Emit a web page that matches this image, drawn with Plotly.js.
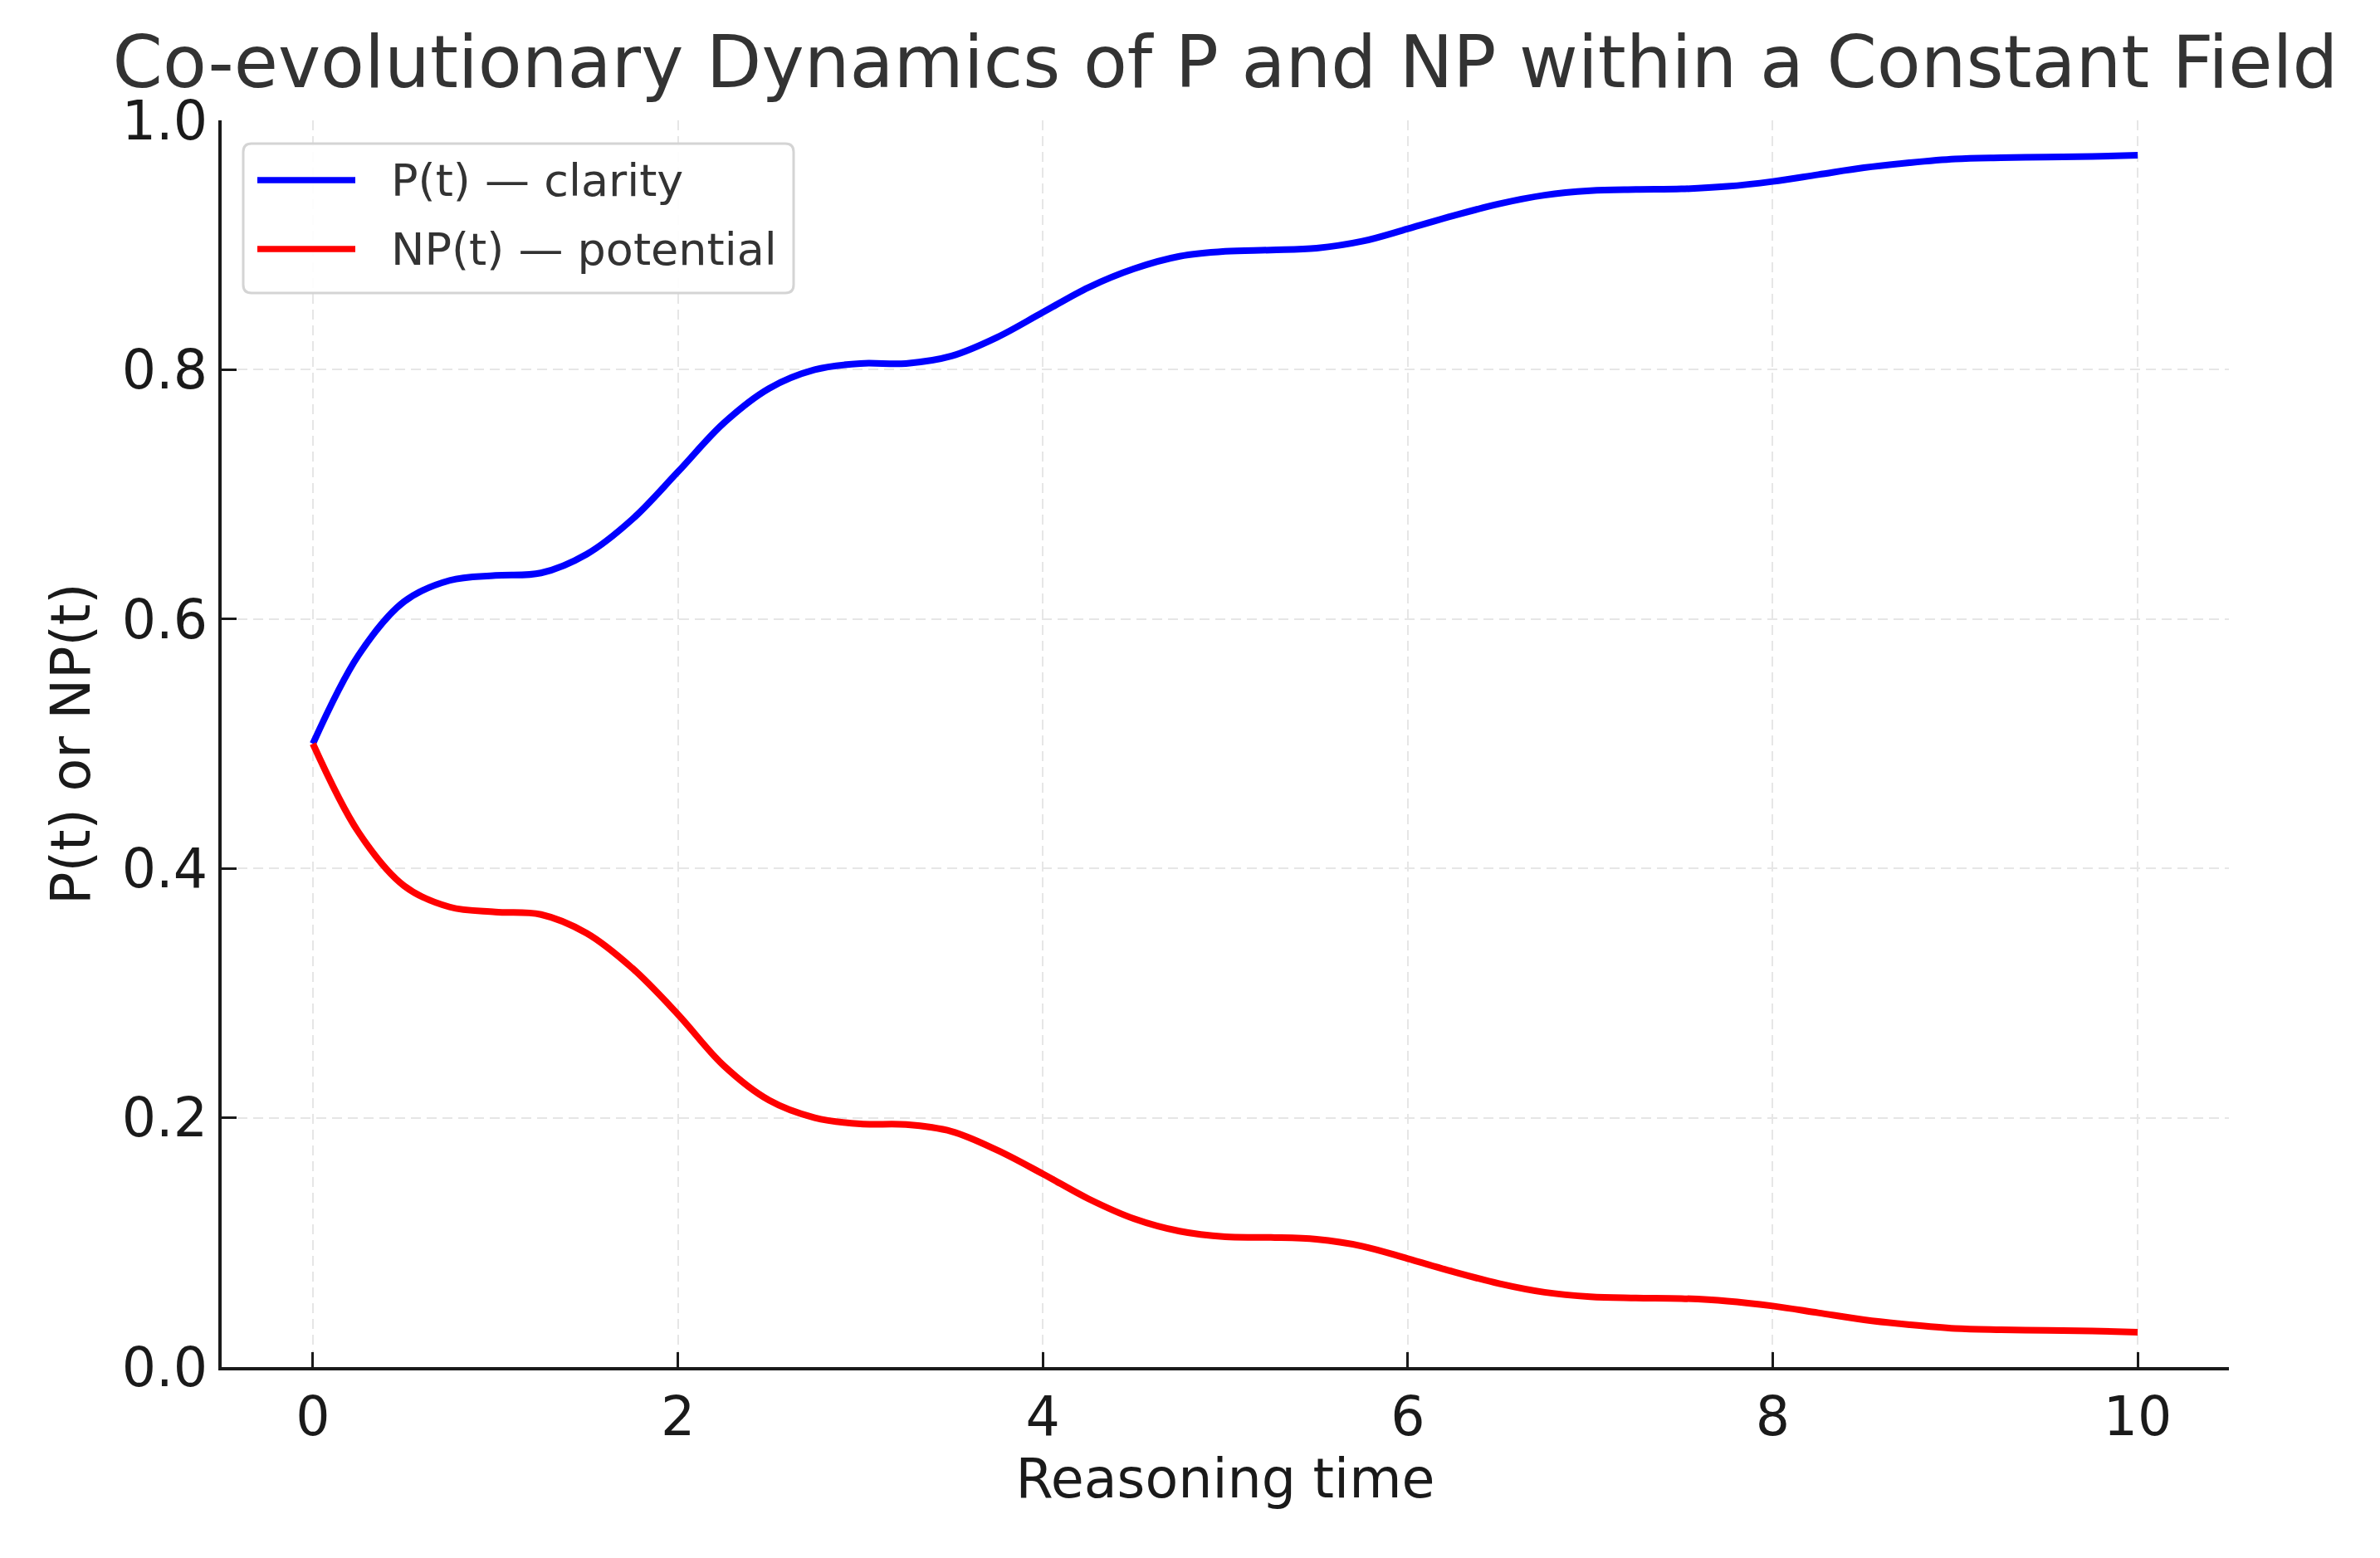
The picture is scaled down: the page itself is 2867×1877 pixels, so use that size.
<!DOCTYPE html>
<html>
<head>
<meta charset="utf-8">
<script src="https://cdn.plot.ly/plotly-3.0.1.min.js"></script>
<style>
html, body { margin: 0; padding: 0; background: #ffffff; }
#chart { width: 2867px; height: 1877px; }
</style>
</head>
<body>
<div id="chart"></div>
<script>
// ---- data ----
const reasoningTime = [0, 0.25, 0.5, 0.75, 1, 1.25, 1.5, 1.75, 2, 2.25, 2.5, 2.75, 3, 3.25, 3.5, 3.75, 4, 4.25, 4.5, 4.75, 5,
  5.25, 5.5, 5.75, 6, 6.25, 6.5, 6.75, 7, 7.25, 7.5, 7.75, 8, 8.25, 8.5, 8.75, 9, 9.25, 9.5, 9.75, 10];
const clarityP = [0.500, 0.571, 0.614, 0.631, 0.635, 0.637, 0.652, 0.680, 0.718, 0.757, 0.785, 0.800, 0.805, 0.805, 0.811,
  0.826, 0.846, 0.866, 0.881, 0.891, 0.895, 0.896, 0.8975, 0.903, 0.913, 0.9235, 0.933, 0.940, 0.9435, 0.9445, 0.945,
  0.947, 0.951, 0.9565, 0.962, 0.966, 0.969, 0.970, 0.9705, 0.971, 0.972];
const potentialNP = [0.500, 0.429, 0.386, 0.369, 0.365, 0.363, 0.348, 0.320, 0.283, 0.242, 0.214, 0.200, 0.195, 0.1945, 0.189,
  0.174, 0.155, 0.135, 0.119, 0.109, 0.1045, 0.104, 0.1025, 0.097, 0.087, 0.0765, 0.067, 0.060, 0.0565, 0.0555, 0.055,
  0.053, 0.049, 0.0435, 0.038, 0.034, 0.031, 0.030, 0.0295, 0.029, 0.028];
const seriesNames = ["P(t) \u2014 clarity", "NP(t) \u2014 potential"];
const xTickVals = [0, 2, 4, 6, 8, 10];
const yTickVals = [0, 0.2, 0.4, 0.6, 0.8, 1.0];
const titleText = "Co-evolutionary Dynamics of P and NP within a Constant Field";
const xLabel = "Reasoning time";
const yLabel = "P(t) or NP(t)";

// ---- styling ----
const FONT = "DejaVu Sans";
const colors = ["#0000ff", "#ff0000"];
const W = 2867, H = 1877;
const M = { l: 267, r: 182, t: 145, b: 230 };
const plotW = W - M.l - M.r, plotH = H - M.t - M.b;
const px2x = p => (p - M.l) / plotW;
const px2y = p => (H - M.b - p) / plotH;

const traces = [
  { x: reasoningTime, y: clarityP, name: seriesNames[0], type: "scatter", mode: "lines",
    line: { color: colors[0], width: 8, shape: "spline", smoothing: 1.0 } },
  { x: reasoningTime, y: potentialNP, name: seriesNames[1], type: "scatter", mode: "lines",
    line: { color: colors[1], width: 8, shape: "spline", smoothing: 1.0 } }
];

// manual legend (matplotlib-style box with long line samples)
const lx0 = px2x(293), lx1 = px2x(956), ly0 = px2y(353), ly1 = px2y(173);
const rx = 10 / plotW, ry = 10 / plotH;
const boxPath = `M ${lx0 + rx},${ly1} L ${lx1 - rx},${ly1} Q ${lx1},${ly1} ${lx1},${ly1 - ry} ` +
  `L ${lx1},${ly0 + ry} Q ${lx1},${ly0} ${lx1 - rx},${ly0} L ${lx0 + rx},${ly0} Q ${lx0},${ly0} ${lx0},${ly0 + ry} ` +
  `L ${lx0},${ly1 - ry} Q ${lx0},${ly1} ${lx0 + rx},${ly1} Z`;
const rowsY = [px2y(217), px2y(300)];
const shapes = [
  { type: "path", xref: "paper", yref: "paper", path: boxPath, layer: "above",
    fillcolor: "rgba(255,255,255,0.9)", line: { color: "#d4d4d4", width: 3 } }
];
const annotations = [];
seriesNames.forEach((nm, i) => {
  shapes.push({ type: "line", xref: "paper", yref: "paper", layer: "above",
    x0: px2x(310), x1: px2x(428), y0: rowsY[i], y1: rowsY[i],
    line: { color: colors[i], width: 7.5 } });
  annotations.push({ xref: "paper", yref: "paper", x: px2x(469), y: rowsY[i], xanchor: "left", yanchor: "middle",
    text: nm, showarrow: false, font: { family: FONT, size: 54, color: "#333333" } });
});

const axisCommon = {
  showline: true, linecolor: "#1a1a1a", linewidth: 4, mirror: false,
  ticks: "inside", ticklen: 18, tickwidth: 3, tickcolor: "#1a1a1a",
  showgrid: true, gridcolor: "#e6e6e6", gridwidth: 2, griddash: "12px,7px",
  zeroline: false, automargin: false,
  tickfont: { family: FONT, size: 65, color: "#1a1a1a" }
};

const layout = {
  width: W, height: H,
  margin: M,
  paper_bgcolor: "#ffffff", plot_bgcolor: "#ffffff",
  showlegend: false,
  font: { family: FONT, color: "#1a1a1a" },
  title: { text: titleText, font: { family: FONT, size: 86.5, color: "#333333" },
    x: 0.5, xref: "paper", xanchor: "center", y: 1 - 75 / H, yref: "container", yanchor: "middle" },
  xaxis: Object.assign({}, axisCommon, {
    range: [-0.5, 10.5], tickmode: "array", tickvals: xTickVals, ticktext: xTickVals.map(String),
    title: { text: xLabel, font: { family: FONT, size: 65, color: "#1a1a1a" }, standoff: 15 }
  }),
  yaxis: Object.assign({}, axisCommon, {
    range: [0, 1], tickmode: "array", tickvals: yTickVals, ticktext: yTickVals.map(v => v.toFixed(1)),
    title: { text: yLabel, font: { family: FONT, size: 65, color: "#1a1a1a" }, standoff: 18 }
  }),
  shapes: shapes,
  annotations: annotations
};

Plotly.newPlot("chart", traces, layout, { displayModeBar: false, staticPlot: true });
</script>
</body>
</html>
